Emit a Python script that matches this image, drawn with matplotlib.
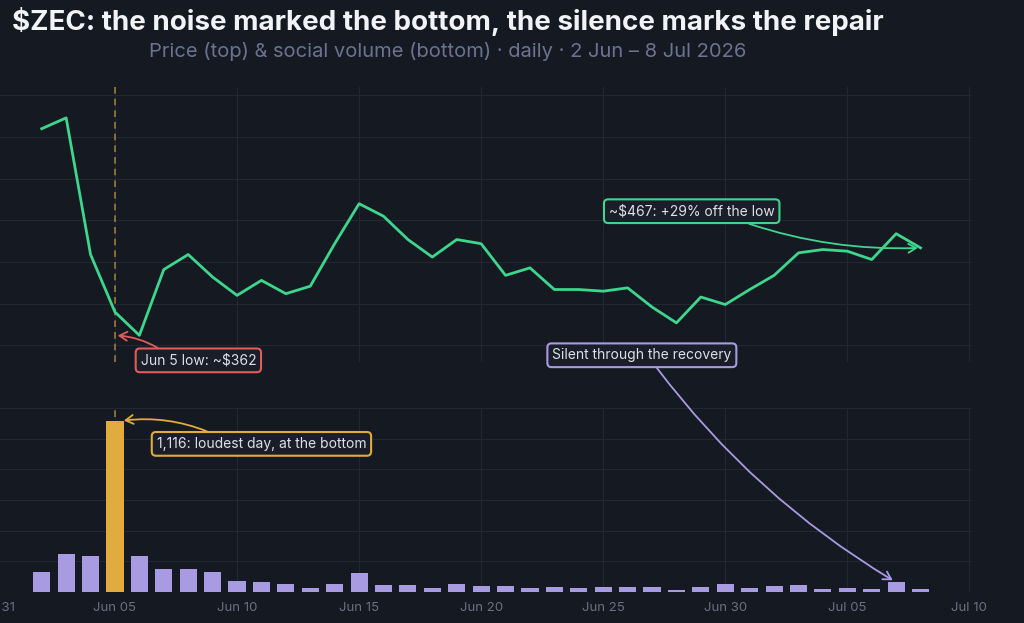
import numpy as np
import pandas as pd
import matplotlib.pyplot as plt
import matplotlib.dates as mdates

# daily data, 2 Jun - 8 Jul 2026
dates = pd.date_range('2026-06-02', '2026-07-08', freq='D')
price = [610, 623, 459, 390, 362, 441, 459, 432, 410, 428,
         412, 421, 472, 520, 505, 477, 456, 477, 472, 434,
         443, 417, 417, 415, 419, 396, 377, 408, 399,
         417, 434, 461, 465, 463, 453, 484, 467]
volume = [130, 246, 237, 1116, 237, 152, 152, 129, 72, 63,
          50, 26, 50, 126, 48, 48, 26, 54, 41, 36,
          25, 31, 24, 35, 35, 35, 13, 35, 50,
          24, 41, 45, 20, 24, 20, 67, 22]
peak_day = '2026-06-05'
low_price = 362
last_day = '2026-07-08'
last_price = 467
tick_dates = pd.date_range('2026-05-31', '2026-07-10', freq='5D')

bg = '#151922'
grid_c = '#222734'
green = '#3dd68c'
purple = '#a89be2'
gold = '#e1ab3d'
red = '#e05c5c'
txt = '#dde0e8'
font = ['Inter', 'DejaVu Sans']
plt.rcParams['font.family'] = font


def d(s):
    return mdates.date2num(pd.Timestamp(s))


fig = plt.figure(figsize=(10.24, 6.23), dpi=100, facecolor=bg)
ax1 = fig.add_axes([-0.01885, 0.4189, 0.968, 0.4414])
ax2 = fig.add_axes([-0.01885, 0.0498, 0.968, 0.2953], sharex=ax1)

for ax in (ax1, ax2):
    ax.set_facecolor(bg)
    for s in ax.spines.values():
        s.set_visible(False)
    ax.grid(True, color=grid_c, linewidth=0.8)
    ax.set_axisbelow(True)
    ax.tick_params(length=0, labelleft=False, colors='#6b7082', labelsize=9.5)
    ax.axvline(d(peak_day), color=gold, alpha=0.65, linestyle=(0, (4, 3)), linewidth=1.2, zorder=1)

ax1.set_xlim(d('2026-05-30 12:00'), d('2026-07-10 02:30'))
ax1.set_xticks(mdates.date2num(tick_dates))
ax1.xaxis.set_major_formatter(mdates.DateFormatter('%b %d'))
ax1.tick_params(labelbottom=False)
ax2.tick_params(axis='x', pad=7)

# price
ax1.plot(mdates.date2num(dates), price, color=green, linewidth=2, zorder=3)
ax1.set_ylim(330, 660)
ax1.set_yticks(np.arange(350, 651, 50))

# social volume
bar_colors = [gold if dt == pd.Timestamp(peak_day) else purple for dt in dates]
ax2.bar(mdates.date2num(dates), volume, width=0.7, color=bar_colors, zorder=2)
ax2.set_ylim(0, 1200)
ax2.set_yticks(np.arange(0, 1201, 200))


def box(c):
    return dict(boxstyle='round,pad=0.35,rounding_size=0.3', fc='#1a1e29', ec=c, lw=1.5)


def arrow(c, rad, rel):
    return dict(arrowstyle='->,head_length=0.55,head_width=0.32', color=c, lw=1.3,
                connectionstyle=f'arc3,rad={rad}', relpos=rel, shrinkA=0, shrinkB=2)


ax1.annotate('Jun 5 low: ~$362', xy=(d(peak_day), low_price),
             xytext=(d('2026-06-08 10:00'), 332), ha='center', va='center',
             color=txt, fontsize=10, bbox=box(red),
             arrowprops=arrow(red, 0.15, (0.22, 1.0)), annotation_clip=False, zorder=5)

ax1.annotate('~$467: +29% off the low', xy=(d(last_day), last_price),
             xytext=(d('2026-06-28 15:00'), 511), ha='center', va='center',
             color=txt, fontsize=10, bbox=box(green),
             arrowprops=arrow(green, 0.1, (0.75, 0.0)), annotation_clip=False, zorder=5)

ax2.annotate('Silent through the recovery', xy=(d('2026-07-06 23:00'), volume[-2]),
             xytext=(d('2026-06-26 14:00'), 1544), ha='center', va='center',
             color=txt, fontsize=10, bbox=box(purple),
             arrowprops=arrow(purple, 0.1, (0.56, 0.0)), annotation_clip=False, zorder=5)

ax2.annotate('1,116: loudest day, at the bottom', xy=(d('2026-06-05 06:00'), 1116),
             xytext=(d('2026-06-11'), 966), ha='center', va='center',
             color=txt, fontsize=10, bbox=box(gold),
             arrowprops=arrow(gold, 0.15, (0.3, 1.0)), annotation_clip=False, zorder=5)

fig.text(0.4375, 0.966, '$ZEC: the noise marked the bottom, the silence marks the repair',
         ha='center', va='center', color='#f2f3f6', fontsize=20, fontweight='bold')
fig.text(0.4375, 0.918, 'Price (top) & social volume (bottom) · daily · 2 Jun – 8 Jul 2026',
         ha='center', va='center', color='#6c7391', fontsize=14.5)

fig.savefig('out.png', dpi=100, facecolor=bg)
